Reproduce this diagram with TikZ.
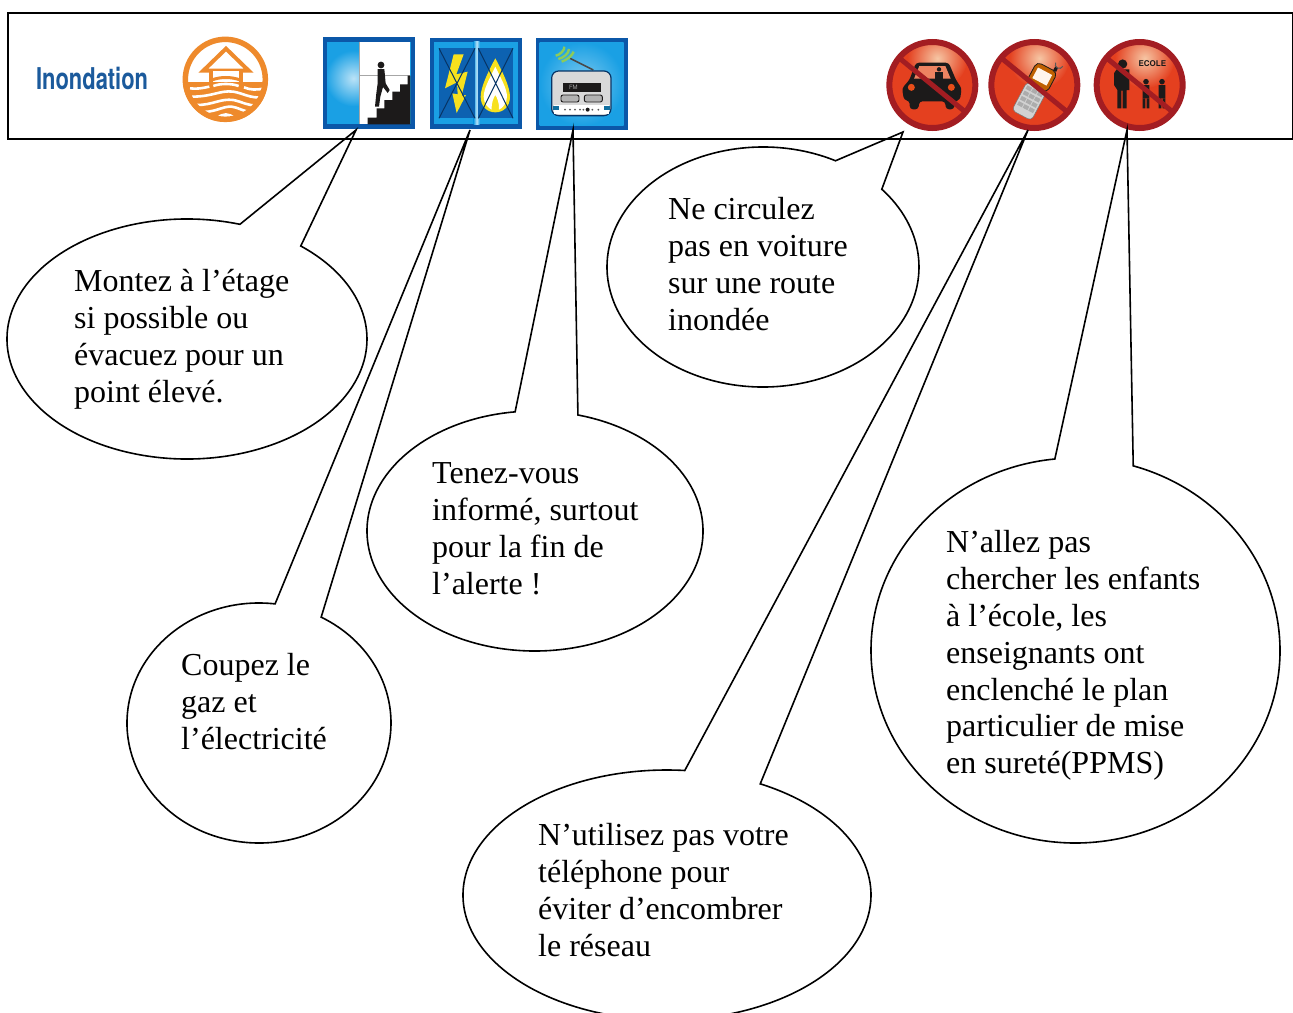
\documentclass[tikz,border=0pt]{standalone}
\usepackage{fontspec}
\setmainfont{Liberation Serif}
\newfontfamily\logofont{TeX Gyre Heros}
\definecolor{iconblue}{HTML}{0B57A8}
\definecolor{skyblue}{HTML}{1AA0E4}
\definecolor{deepred}{HTML}{A31D22}
\definecolor{signred}{HTML}{E4401F}
\definecolor{signlight}{HTML}{F6C6A4}
\definecolor{floodorange}{HTML}{EE8A2C}
\definecolor{boltyellow}{HTML}{F7E11E}
\definecolor{inkblack}{HTML}{1C1A1A}
\definecolor{wavegreen}{HTML}{8CCB5A}
\definecolor{titleblue}{HTML}{1B5A9C}
\tikzset{
  x=1pt,y=1pt,
  bubble/.style={draw=black,line width=1.6pt,fill=white,line join=miter},
  bubbletext/.style={anchor=north west,inner sep=0pt,align=left,
     font=\fontsize{32}{36.8}\selectfont},
  zoomed/.style={x=0.33333pt,y=-0.33333pt,shift={#1}},
  iconframe/.style={fill=iconblue},
  nosign/.style={draw=deepred,line width=6pt},
  nobar/.style={draw=deepred,line width=5pt},
}
% #1 name, #2 cx, #3 cy, #4 rx, #5 ry, #6 angle of left base, #7 angle of right base, #8 tip x, #9 tip y
\newcommand\speech[9]{%
  \coordinate (#1tip) at (#8,-#9);
  \path[bubble] ($(#2,-#3)+({#4*cos(#6)},{#5*sin(#6)})$)
     arc[start angle=#6,end angle={#7+360},x radius=#4pt,y radius=#5pt]
     -- (#1tip) -- cycle;
}
\newcommand\fl{\rule{0pt}{24pt}}
\usetikzlibrary{calc}
\begin{document}
\begin{tikzpicture}
\useasboundingbox (0,0) rectangle (1293,-1012);
\clip (0,0) rectangle (1293,-1012);
\fill[white] (0,0) rectangle (1293,-1012);

% ---- title
\node[anchor=base west,inner sep=0pt,text=titleblue,xscale=0.73,
      font=\logofont\bfseries\fontsize{30}{30}\selectfont] (title) at (36,-89) {Inondation};

% ---- flood logo
\begin{scope}[zoomed={(0pt,0pt)}]
  \begin{scope}
    \clip (676,238) circle[radius=42.5pt];
    \fill[white] (540,100) rectangle (810,380);
    \fill[floodorange] (540,246) rectangle (810,380);
    \draw[white,line width=2.6pt] (570,265) .. controls (590,268) and (610,264) .. (628,260);
    \draw[white,line width=2.6pt] (640,258) .. controls (660,250) and (695,250) .. (716,258);
    \draw[white,line width=2.6pt] (732,262) .. controls (750,270) and (770,270) .. (790,266);
    \draw[white,line width=2.6pt] (575,290) .. controls (640,290) and (660,270) .. (700,275) .. controls (730,280) and (750,295) .. (785,292);
    \draw[white,line width=2.6pt] (590,315) .. controls (640,315) and (660,295) .. (700,300) .. controls (725,305) and (745,318) .. (770,316);
    \draw[white,line width=2.6pt] (610,336) .. controls (650,335) and (670,318) .. (695,320) .. controls (715,322) and (730,335) .. (750,335);
    \fill[white] (650,352) .. controls (665,335) and (690,335) .. (705,352) -- cycle;
  \end{scope}
  \draw[floodorange,line width=5.5pt] (676,238) circle[radius=40pt];
  \draw[floodorange,line width=4pt,line join=miter] (610,212) -- (678,146) -- (746,212) -- cycle;
  \fill[white] (640,212) rectangle (716,246);
  \draw[floodorange,line width=4.5pt] (633,212) -- (633,256);
  \draw[floodorange,line width=4.5pt] (723,212) -- (723,256);
  \draw[floodorange,line width=3pt] (636,240) .. controls (660,230) and (695,230) .. (720,240);
\end{scope}

% ---- icon: stairs
\begin{scope}[zoomed={(315pt,-25pt)}]
  \fill[iconframe] (24,37) rectangle (300,312);
  \fill[skyblue] (36,50) rectangle (288,298);
  \begin{scope}
    \clip (36,50) rectangle (132,298);
    \shade[inner color=white!70!skyblue,outer color=skyblue] (115,160) circle[radius=28pt];
  \end{scope}
  \fill[white] (132,50) rectangle (286,298);
  \draw[gray!70,line width=1pt] (132,150) -- (285,150);
  \draw[gray!70,line width=1pt] (132,50) -- (132,298);
  \fill[inkblack] (158,298) -- (158,278) -- (185,278) -- (185,250) -- (208,250) -- (208,225) -- (232,225) -- (232,200) -- (255,200) -- (255,178) -- (278,178) -- (278,152) -- (286,152) -- (286,298) -- cycle;
  \fill[inkblack] (198,120) circle[radius=3.4pt];
  \fill[inkblack] (188,132) -- (208,132) -- (212,175) -- (224,195) -- (218,204) -- (204,186) -- (196,215) -- (192,245) -- (180,245) -- (184,205) -- (188,175) -- cycle;
\end{scope}

% ---- icon: power and gas
\begin{scope}[zoomed={(315pt,-25pt)}]
  \fill[iconframe] (344,38) rectangle (620,312);
  \fill[skyblue] (356,50) rectangle (608,298);
  \shade[left color=skyblue,right color=skyblue,middle color=white!70!skyblue] (476,50) rectangle (494,298);
  \fill[iconblue!85!skyblue] (372,70) rectangle (480,280);
  \fill[iconblue!85!skyblue] (490,70) rectangle (594,280);
  \fill[boltyellow] (416,88) -- (446,88) -- (424,148) -- (458,140) -- (440,212) -- (453,210) -- (425,264) -- (412,205) -- (428,208) -- (426,172) -- (390,190) -- cycle;
  \fill[boltyellow] (541,100) .. controls (560,135) and (585,185) .. (585,215) .. controls (585,245) and (565,262) .. (541,262) .. controls (517,262) and (497,245) .. (497,215) .. controls (497,185) and (522,135) .. (541,100) -- cycle;
  \fill[white] (541,125) .. controls (555,155) and (576,190) .. (576,215) .. controls (576,235) and (562,250) .. (552,254) .. controls (554,235) and (545,215) .. (541,210) .. controls (537,215) and (528,235) .. (530,254) .. controls (520,250) and (506,235) .. (506,215) .. controls (506,190) and (527,155) .. (541,125) -- cycle;
  \draw[iconblue!60!black,line width=1pt] (372,70) -- (480,280) (480,70) -- (372,280);
  \draw[iconblue!60!black,line width=1pt] (490,70) -- (594,280) (594,70) -- (490,280);
\end{scope}

% ---- icon: radio
\begin{scope}[zoomed={(315pt,-25pt)}]
  \fill[iconframe] (662,40) rectangle (940,315);
  \shade[inner color=white!45!skyblue,outer color=skyblue] (674,52) rectangle (926,302);
  \draw[inkblack!80,line width=1.6pt] (765,100) -- (835,135);
  \draw[wavegreen,line width=2.4pt] (722,92) .. controls (735,90) and (750,75) .. (748,65);
  \draw[wavegreen,line width=2.4pt] (730,102) .. controls (745,99) and (762,85) .. (762,72);
  \draw[wavegreen,line width=2.4pt] (740,110) .. controls (755,105) and (772,92) .. (776,80);
  \fill[gray!30,draw=iconblue!60!black,line width=1.2pt,rounded corners=7pt] (710,138) rectangle (888,272);
  \fill[inkblack] (745,174) rectangle (858,202);
  \node[text=gray!70,inner sep=0pt,font=\logofont\fontsize{6}{6}\selectfont] (fm) at (775,188) {FM};
  \fill[gray!60,draw=inkblack,line width=.9pt,rounded corners=2pt] (738,210) rectangle (792,231);
  \fill[gray!60,draw=inkblack,line width=.9pt,rounded corners=2pt] (808,210) rectangle (862,231);
  \fill[white] (716,240) rectangle (882,266);
  \fill[skyblue!70!black] (714,244) rectangle (732,256);
  \fill[skyblue!70!black] (866,244) rectangle (884,256);
  \foreach \dotx in {750,765,780,795,805,832,850} \fill[gray!70!black] (\dotx,254) circle[radius=1pt];
  \fill[inkblack] (818,254) circle[radius=2pt];
\end{scope}

% ---- prohibition signs
\begin{scope}[zoomed={(880pt,-30pt)}]
  \foreach \signx in {157,463,779}{
    \begin{scope}
      \clip (\signx,165) circle[radius=44pt];
      \fill[signred] (\signx-135,30) rectangle (\signx+135,300);
      \shade[inner color=signlight,outer color=signred] (\signx+15,85) circle[radius=30pt];
    \end{scope}
  }
  % car
  \fill[inkblack,rounded corners=3pt] (88,150) -- (108,98) -- (206,98) -- (228,150) -- (245,175) -- (240,210) -- (225,212) -- (222,238) -- (198,238) -- (195,214) -- (118,214) -- (115,238) -- (90,238) -- (88,212) -- (72,210) -- (66,175) -- cycle;
  \fill[signred!50!signlight] (118,108) -- (196,108) -- (212,146) -- (102,146) -- cycle;
  \fill[inkblack] (177,118) circle[radius=2.2pt];
  \fill[inkblack] (165,126) rectangle (190,146);
  \fill[signred!80!orange] (94,172) circle[radius=3.5pt] (214,172) circle[radius=3.5pt];
  % phone
  \begin{scope}[shift={(468,175)},rotate=-28]
    \fill[gray!35,draw=inkblack!60,line width=.5pt,rounded corners=4pt] (-33,-5) rectangle (33,92);
    \fill[orange!75!black,draw=inkblack,line width=.8pt,rounded corners=5pt] (-35,-72) rectangle (35,-3);
    \fill[white!92!orange] (-24,-58) rectangle (24,-22);
    \fill[inkblack] (20,-72) rectangle (30,-85);
    \foreach \kx in {-19,0,19} \foreach \ky in {10,28,46,64}
      \fill[gray!65] (\kx-8,\ky-6) rectangle (\kx+8,\ky+6);
    \draw[gray!70!black,line width=1pt] (16,-96) arc[start angle=180,end angle=360,radius=4pt];
  \end{scope}
  % school
  \fill[inkblack] (728,102) circle[radius=4.6pt];
  \fill[inkblack] (710,118) -- (748,118) -- (748,180) -- (740,180) -- (740,235) -- (728,235) -- (728,182) -- (724,182) -- (724,235) -- (712,235) -- (712,180) -- (702,165) -- (702,130) -- cycle;
  \fill[inkblack] (798,155) circle[radius=2.8pt] (846,155) circle[radius=2.8pt];
  \fill[inkblack] (788,165) rectangle (808,205) (836,165) rectangle (856,205);
  \fill[inkblack] (788,205) rectangle (796,235) (800,205) rectangle (808,235) (836,205) rectangle (844,235) (848,205) rectangle (856,235);
  \node[text=inkblack,inner sep=0pt,font=\logofont\bfseries\fontsize{8}{8}\selectfont] (ecole) at (817,102) {ECOLE};
  % rings and bars
  \foreach \signx in {157,463,779}{
    \draw[nosign] (\signx,165) circle[radius=43pt];
    \draw[nobar] (\signx-98,165-80) -- (\signx+98,165+80);
  }
\end{scope}

% ---- speech bubbles
\speech{etage}{187}{339}{180}{120}{72.9}{50.8}{356}{130}
\speech{gaz}{259}{723}{132}{120}{83.0}{61.9}{470}{130}
\speech{info}{535}{531}{168}{120}{96.8}{75.2}{573}{130}
\speech{voiture}{763}{267}{156}{120}{62.3}{40.4}{903}{132}
\speech{tel}{667}{895}{204}{125}{85.0}{62.8}{1028}{130}
\speech{ecole}{1075.5}{650.5}{204.5}{192.5}{95.8}{73.6}{1127}{130}

% ---- band
\draw[black,line width=2pt] (8,-12.5) rectangle (1292.5,-138.5);

% ---- texts
\node[bubbletext] (tetage) at (74,-267.7) {\fl Montez à l’étage\\si possible ou\\évacuez pour un\\point élevé.};
\node[bubbletext] (tvoiture) at (668,-195.7) {\fl Ne circulez\\pas en voiture\\sur une route\\inondée};
\node[bubbletext] (tinfo) at (432,-459.7) {\fl Tenez-vous\\informé, surtout\\pour la fin de\\l’alerte !};
\node[bubbletext] (tgaz) at (181,-651.7) {\fl Coupez le\\gaz et\\l’électricité};
\node[bubbletext] (ttel) at (538,-821.7) {\fl N’utilisez pas votre\\téléphone pour\\éviter d’encombrer\\le réseau};
\node[bubbletext] (tecole) at (946,-528.7) {\fl N’allez pas\\chercher les enfants\\à l’école, les\\enseignants ont\\enclenché le plan\\particulier de mise\\en sureté(PPMS)};
\end{tikzpicture}
\end{document}
